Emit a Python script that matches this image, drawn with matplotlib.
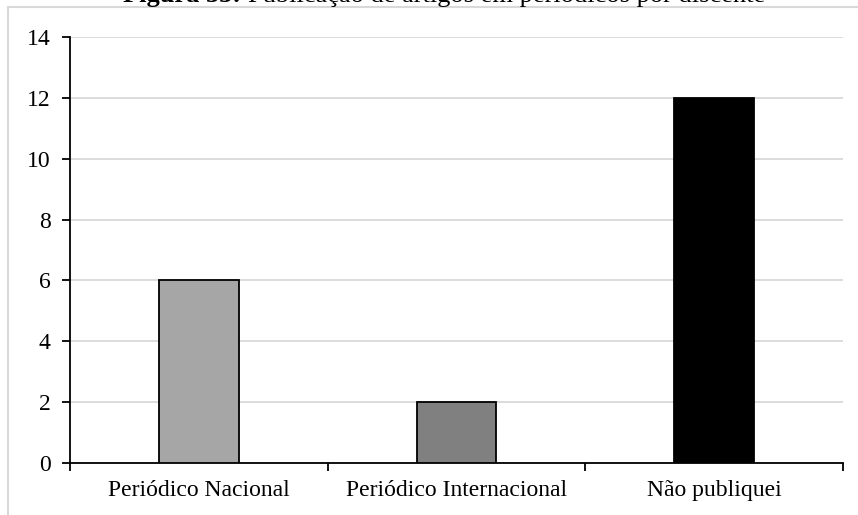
import matplotlib.pyplot as plt
from matplotlib.patches import Rectangle
import numpy as np

categorias = ["Periódico Nacional", "Periódico Internacional", "Não publiquei"]
valores = [6, 2, 12]
cores = ["#a6a6a6", "#808080", "#000000"]
yticks = [0, 2, 4, 6, 8, 10, 12, 14]

plt.rcParams['font.family'] = ['Liberation Serif', 'DejaVu Serif']
plt.rcParams['font.size'] = 17

fig = plt.figure(figsize=(8.58, 5.15), dpi=100)
W, H = 858, 515
ax = fig.add_axes([70 / W, 1 - 463 / H, (843 - 70) / W, (463 - 37) / H])

x = np.arange(len(categorias))
ax.bar(x, valores, width=0.31, color=cores, edgecolor="black", linewidth=1.3, zorder=3)

ax.set_xlim(-0.5, 2.5)
ax.set_ylim(0, 14)
ax.set_yticks(yticks)
ax.yaxis.grid(True, color="#d9d9d9", linewidth=1.3, zorder=0)
ax.set_xticks(x)
ax.set_xticklabels(categorias)
ax.tick_params(axis="x", length=0, pad=12)
ax.set_xticks([-0.5, 0.5, 1.5, 2.5], minor=True)
ax.tick_params(axis="x", which="minor", length=6, width=1.3, direction="out")
ax.tick_params(axis="y", length=6, width=1.3, direction="out", pad=8)
for s in ["top", "right"]:
    ax.spines[s].set_visible(False)
for s in ["left", "bottom"]:
    ax.spines[s].set_linewidth(1.3)

# moldura cinza da área do gráfico
fig.patches.append(Rectangle((8 / W, -0.1), 1.2, 1 - 7 / H + 0.1, transform=fig.transFigure,
                             fill=False, edgecolor="#d9d9d9", linewidth=1.5))

# título (cortado no topo como na imagem), centrado em x ~ 444 px
yb = 1 - 2 / H
t1 = fig.text(0, yb, "Figura 33: ", fontweight="bold", fontsize=19, ha="left", va="baseline")
t2 = fig.text(0, yb, "Publicação de artigos em periódicos por discente", fontsize=19,
              ha="left", va="baseline")
r = fig.canvas.get_renderer()
w1 = t1.get_window_extent(r).width
w2 = t2.get_window_extent(r).width
x0 = 444 - (w1 + w2) / 2
t1.set_x(x0 / W)
t2.set_x((x0 + w1) / W)

fig.savefig("out.png", dpi=100)
